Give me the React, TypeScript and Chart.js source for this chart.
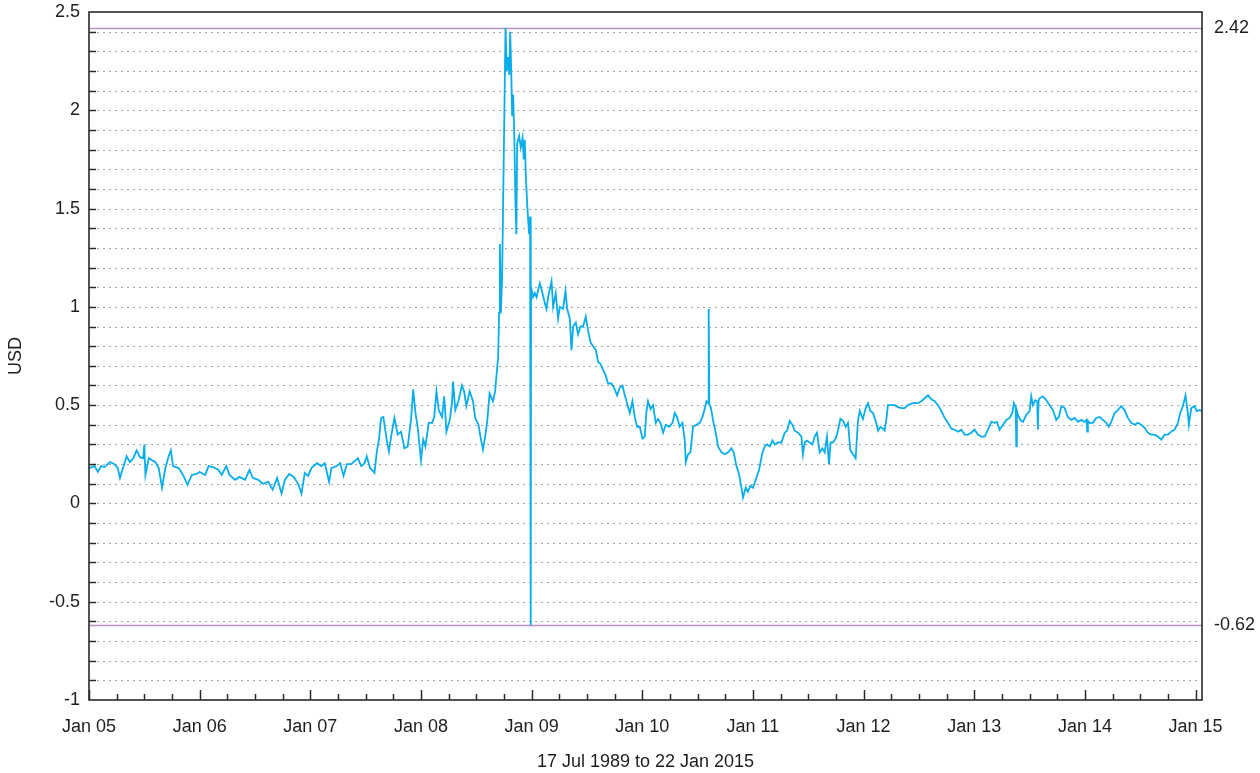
import React, { useEffect, useRef } from "react";
import { Chart, registerables } from "chart.js";

Chart.register(...registerables);

// ---- Data (decimal year, USD) ----
const t2005 = [2005.00, 2005.05, 2005.08, 2005.11, 2005.14, 2005.19, 2005.23, 2005.26, 2005.28, 2005.31, 2005.34, 2005.37, 2005.40, 2005.43, 2005.46, 2005.49, 2005.50, 2005.51, 2005.54, 2005.57, 2005.60, 2005.63, 2005.66, 2005.69, 2005.72, 2005.74, 2005.76, 2005.81, 2005.85, 2005.89, 2005.93, 2005.97];
const v2005 = [0.18, 0.19, 0.16, 0.19, 0.185, 0.21, 0.20, 0.18, 0.13, 0.185, 0.24, 0.21, 0.23, 0.27, 0.235, 0.23, 0.30, 0.145, 0.23, 0.22, 0.21, 0.18, 0.08, 0.18, 0.24, 0.27, 0.19, 0.18, 0.145, 0.095, 0.145, 0.15];

const t2006 = [2006.00, 2006.05, 2006.08, 2006.12, 2006.17, 2006.20, 2006.24, 2006.27, 2006.32, 2006.36, 2006.41, 2006.45, 2006.48, 2006.53, 2006.57, 2006.62, 2006.66, 2006.70, 2006.74, 2006.77, 2006.81, 2006.85, 2006.89, 2006.92, 2006.95, 2006.98];
const v2006 = [0.16, 0.145, 0.19, 0.185, 0.17, 0.145, 0.19, 0.145, 0.12, 0.135, 0.12, 0.17, 0.13, 0.12, 0.10, 0.11, 0.07, 0.13, 0.05, 0.12, 0.15, 0.135, 0.10, 0.05, 0.155, 0.14];

const t2007 = [2007.01, 2007.06, 2007.10, 2007.13, 2007.17, 2007.19, 2007.24, 2007.27, 2007.30, 2007.33, 2007.37, 2007.40, 2007.43, 2007.46, 2007.49, 2007.51, 2007.54, 2007.58, 2007.60, 2007.62, 2007.64, 2007.66, 2007.69, 2007.71, 2007.73, 2007.76, 2007.79, 2007.82, 2007.85, 2007.88, 2007.91, 2007.93, 2007.95, 2007.97];
const v2007 = [0.18, 0.205, 0.19, 0.205, 0.11, 0.18, 0.19, 0.205, 0.14, 0.20, 0.20, 0.215, 0.23, 0.19, 0.205, 0.24, 0.18, 0.155, 0.26, 0.325, 0.435, 0.44, 0.325, 0.265, 0.34, 0.435, 0.35, 0.365, 0.28, 0.29, 0.425, 0.58, 0.46, 0.39];

const t2008 = [2008.00, 2008.02, 2008.04, 2008.07, 2008.10, 2008.12, 2008.14, 2008.16, 2008.19, 2008.21, 2008.23, 2008.26, 2008.28, 2008.29, 2008.31, 2008.34, 2008.37, 2008.39, 2008.41, 2008.44, 2008.47, 2008.49, 2008.52, 2008.54, 2008.56, 2008.58, 2008.60, 2008.62, 2008.65, 2008.67, 2008.69];
const v2008 = [0.22, 0.325, 0.29, 0.41, 0.41, 0.44, 0.57, 0.475, 0.44, 0.545, 0.365, 0.425, 0.51, 0.62, 0.475, 0.525, 0.60, 0.57, 0.495, 0.57, 0.52, 0.435, 0.40, 0.33, 0.275, 0.34, 0.425, 0.56, 0.52, 0.57, 0.70];

const tCrisis = [2008.697, 2008.706, 2008.713, 2008.722, 2008.733, 2008.764, 2008.776, 2008.789, 2008.798, 2008.806, 2008.815, 2008.824, 2008.833, 2008.844, 2008.853, 2008.862, 2008.869, 2008.887, 2008.902, 2008.918, 2008.929, 2008.938, 2008.947, 2008.959, 2008.977, 2008.986, 2008.992, 2008.995];
const vCrisis = [0.74, 0.97, 1.32, 0.97, 1.14, 2.42, 2.20, 2.27, 2.18, 2.40, 2.22, 1.97, 2.08, 1.85, 1.55, 1.37, 1.83, 1.87, 1.81, 1.86, 1.75, 1.85, 1.68, 1.53, 1.37, 1.46, -0.62, 1.10];

const t2009 = [2009.013, 2009.029, 2009.044, 2009.074, 2009.089, 2009.119, 2009.134, 2009.149, 2009.180, 2009.194, 2009.218, 2009.239, 2009.255, 2009.284, 2009.306, 2009.321, 2009.345, 2009.360, 2009.375, 2009.399, 2009.420, 2009.442, 2009.465, 2009.489, 2009.510, 2009.532, 2009.555, 2009.580, 2009.601, 2009.622, 2009.646, 2009.670, 2009.691, 2009.722, 2009.751, 2009.772, 2009.797, 2009.821, 2009.842, 2009.862, 2009.887, 2009.911, 2009.932, 2009.953, 2009.977];
const v2009 = [1.05, 1.07, 1.05, 1.12, 1.09, 1.02, 0.99, 1.05, 1.13, 1.00, 1.07, 0.94, 1.00, 0.99, 1.08, 0.99, 0.94, 0.78, 0.90, 0.92, 0.86, 0.90, 0.90, 0.95, 0.88, 0.82, 0.80, 0.78, 0.72, 0.71, 0.68, 0.65, 0.61, 0.61, 0.58, 0.55, 0.59, 0.60, 0.55, 0.51, 0.46, 0.52, 0.44, 0.39, 0.39];

const t2010 = [2010.002, 2010.022, 2010.038, 2010.052, 2010.074, 2010.097, 2010.122, 2010.143, 2010.164, 2010.188, 2010.212, 2010.242, 2010.273, 2010.293, 2010.314, 2010.338, 2010.363, 2010.384, 2010.393, 2010.414, 2010.435, 2010.459, 2010.489, 2010.519, 2010.544, 2010.564, 2010.580, 2010.594, 2010.600, 2010.606, 2010.619, 2010.640, 2010.664, 2010.685, 2010.715, 2010.745, 2010.775, 2010.805, 2010.826, 2010.851, 2010.874, 2010.896, 2010.910, 2010.935, 2010.955, 2010.977];
const v2010 = [0.33, 0.34, 0.47, 0.52, 0.48, 0.50, 0.41, 0.43, 0.41, 0.36, 0.40, 0.39, 0.41, 0.46, 0.44, 0.39, 0.41, 0.32, 0.21, 0.25, 0.26, 0.39, 0.40, 0.41, 0.44, 0.48, 0.52, 0.51, 0.99, 0.50, 0.49, 0.42, 0.36, 0.29, 0.26, 0.25, 0.26, 0.28, 0.26, 0.19, 0.15, 0.08, 0.03, 0.08, 0.06, 0.09];

const t2011 = [2011.001, 2011.025, 2011.055, 2011.086, 2011.106, 2011.127, 2011.152, 2011.176, 2011.197, 2011.227, 2011.257, 2011.287, 2011.308, 2011.332, 2011.357, 2011.377, 2011.407, 2011.438, 2011.452, 2011.468, 2011.488, 2011.513, 2011.537, 2011.558, 2011.579, 2011.603, 2011.628, 2011.648, 2011.669, 2011.687, 2011.702, 2011.723, 2011.748, 2011.768, 2011.790, 2011.814, 2011.838, 2011.859, 2011.880, 2011.904, 2011.928, 2011.949, 2011.965, 2011.994];
const v2011 = [0.08, 0.12, 0.17, 0.26, 0.29, 0.30, 0.29, 0.32, 0.30, 0.31, 0.31, 0.36, 0.37, 0.42, 0.40, 0.37, 0.36, 0.34, 0.25, 0.31, 0.32, 0.31, 0.30, 0.34, 0.36, 0.26, 0.28, 0.26, 0.34, 0.20, 0.31, 0.31, 0.33, 0.37, 0.43, 0.42, 0.39, 0.41, 0.27, 0.25, 0.23, 0.42, 0.47, 0.43];

const t2012 = [2012.019, 2012.040, 2012.061, 2012.085, 2012.109, 2012.130, 2012.151, 2012.175, 2012.190, 2012.206, 2012.220, 2012.251, 2012.281, 2012.311, 2012.341, 2012.371, 2012.401, 2012.446, 2012.491, 2012.522, 2012.552, 2012.582, 2012.612, 2012.642, 2012.672, 2012.702, 2012.732, 2012.762, 2012.793, 2012.823, 2012.853, 2012.883, 2012.913, 2012.943, 2012.973];
const v2012 = [0.485, 0.51, 0.47, 0.46, 0.42, 0.37, 0.39, 0.38, 0.37, 0.43, 0.50, 0.50, 0.50, 0.49, 0.485, 0.485, 0.50, 0.51, 0.51, 0.52, 0.535, 0.55, 0.53, 0.52, 0.50, 0.47, 0.435, 0.41, 0.38, 0.375, 0.365, 0.375, 0.35, 0.35, 0.36];

const t2013 = [2013.003, 2013.033, 2013.064, 2013.094, 2013.124, 2013.154, 2013.184, 2013.205, 2013.229, 2013.259, 2013.290, 2013.320, 2013.344, 2013.358, 2013.374, 2013.380, 2013.385, 2013.394, 2013.416, 2013.440, 2013.470, 2013.500, 2013.515, 2013.530, 2013.551, 2013.569, 2013.575, 2013.581, 2013.590, 2013.620, 2013.651, 2013.681, 2013.711, 2013.741, 2013.765, 2013.787, 2013.817, 2013.846, 2013.877, 2013.907, 2013.937, 2013.967, 2013.997];
const v2013 = [0.375, 0.35, 0.34, 0.34, 0.375, 0.415, 0.41, 0.415, 0.375, 0.40, 0.425, 0.435, 0.46, 0.51, 0.49, 0.29, 0.47, 0.45, 0.425, 0.415, 0.45, 0.47, 0.545, 0.50, 0.525, 0.52, 0.375, 0.52, 0.535, 0.545, 0.525, 0.50, 0.475, 0.425, 0.44, 0.495, 0.485, 0.44, 0.425, 0.435, 0.415, 0.425, 0.415];

const t2014 = [2014.015, 2014.021, 2014.027, 2014.042, 2014.072, 2014.102, 2014.132, 2014.162, 2014.193, 2014.216, 2014.238, 2014.268, 2014.298, 2014.328, 2014.358, 2014.388, 2014.419, 2014.449, 2014.479, 2014.509, 2014.539, 2014.569, 2014.599, 2014.629, 2014.659, 2014.690, 2014.720, 2014.750, 2014.780, 2014.810, 2014.840, 2014.861, 2014.885, 2014.909, 2014.930, 2014.939, 2014.961, 2014.991, 2015.011, 2015.036, 2015.054];
const v2014 = [0.425, 0.365, 0.42, 0.41, 0.41, 0.435, 0.44, 0.425, 0.41, 0.39, 0.415, 0.46, 0.475, 0.495, 0.475, 0.435, 0.41, 0.40, 0.41, 0.40, 0.385, 0.36, 0.35, 0.35, 0.34, 0.325, 0.35, 0.35, 0.365, 0.375, 0.41, 0.46, 0.495, 0.55, 0.46, 0.40, 0.485, 0.495, 0.47, 0.475, 0.47];

// ---- Axis / annotation values ----
const yearTicks = [2005, 2006, 2007, 2008, 2009, 2010, 2011, 2012, 2013, 2014, 2015];
const yearLabels = ["Jan 05", "Jan 06", "Jan 07", "Jan 08", "Jan 09", "Jan 10", "Jan 11", "Jan 12", "Jan 13", "Jan 14", "Jan 15"];
const refLines = [2.42, -0.62];
const refLabels = ["2.42", "-0.62"];
const xMin = 2005.0;
const xMax = 2015.058;
const yMin = -1;
const yMax = 2.5;
const xTitle = "17 Jul 1989 to 22 Jan 2015";
const yTitle = "USD";

const FONT = "'Liberation Sans', Arial, Helvetica, sans-serif";
const TEXT = "#1e1e1e";

const allT = [...t2005, ...t2006, ...t2007, ...t2008, ...tCrisis, ...t2009, ...t2010, ...t2011, ...t2012, ...t2013, ...t2014];
const allV = [...v2005, ...v2006, ...v2007, ...v2008, ...vCrisis, ...v2009, ...v2010, ...v2011, ...v2012, ...v2013, ...v2014];

const noPad = (s: any) => {
  s.paddingTop = 0;
  s.paddingBottom = 0;
  s.paddingLeft = 0;
  s.paddingRight = 0;
};

const decor = {
  id: "decor",
  beforeDatasetsDraw(chart: any) {
    const { ctx, chartArea: a, scales } = chart;
    const y = scales.y;
    ctx.save();
    // dotted minor grid every 0.1
    ctx.lineWidth = 1;
    ctx.strokeStyle = "#a3a3a3";
    ctx.setLineDash([2, 4]);
    for (let i = -9; i <= 24; i++) {
      const py = Math.round(y.getPixelForValue(i / 10)) + 0.5;
      ctx.beginPath();
      ctx.moveTo(a.left + 2, py);
      ctx.lineTo(a.right, py);
      ctx.stroke();
    }
    ctx.setLineDash([]);
    // reference lines
    ctx.strokeStyle = "#b98fc4";
    ctx.lineWidth = 1.5;
    for (const v of refLines) {
      const py = Math.round(y.getPixelForValue(v)) + 0.5;
      ctx.beginPath();
      ctx.moveTo(a.left, py);
      ctx.lineTo(a.right, py);
      ctx.stroke();
    }
    ctx.restore();
  },
  afterDatasetsDraw(chart: any) {
    const { ctx, chartArea: a, scales } = chart;
    const x = scales.x;
    const y = scales.y;
    ctx.save();
    ctx.strokeStyle = "#2a2a2a";
    ctx.lineWidth = 1.5;
    // y ticks (inward) every 0.1
    for (let i = -9; i <= 24; i++) {
      const py = Math.round(y.getPixelForValue(i / 10)) + 0.5;
      ctx.beginPath();
      ctx.moveTo(a.left, py);
      ctx.lineTo(a.left + 7, py);
      ctx.stroke();
    }
    // x ticks (inward): quarterly minor, yearly major
    for (let q = 0; q <= 40; q++) {
      const v = xMin + q / 4;
      if (v > xMax) break;
      const px = Math.round(x.getPixelForValue(v)) + 0.5;
      const len = q % 4 === 0 ? 10 : 6;
      ctx.beginPath();
      ctx.moveTo(px, a.bottom);
      ctx.lineTo(px, a.bottom - len);
      ctx.stroke();
    }
    // frame
    ctx.lineWidth = 1.6;
    ctx.strokeRect(a.left, a.top, a.right - a.left, a.bottom - a.top);
    ctx.restore();
  },
};

export default function App() {
  const ref = useRef<HTMLCanvasElement | null>(null);

  useEffect(() => {
    const canvas = ref.current;
    if (!canvas) return;
    const chart = new Chart(canvas, {
      type: "line",
      data: {
        datasets: [
          {
            data: allT.map((t, i) => ({ x: t, y: allV[i] })),
            borderColor: "#08adec",
            borderWidth: 1.8,
            pointRadius: 0,
            tension: 0,
            fill: false,
          },
        ],
      },
      options: {
        animation: false,
        responsive: false,
        devicePixelRatio: 1,
        layout: { padding: { top: 12, left: 0, right: 0, bottom: 0 } },
        plugins: { legend: { display: false }, tooltip: { enabled: false }, title: { display: false } },
        scales: {
          x: {
            type: "linear",
            position: "bottom",
            min: xMin,
            max: xMax,
            grid: { display: false, drawTicks: false },
            border: { display: false },
            afterBuildTicks: (s: any) => {
              s.ticks = yearTicks.map((v) => ({ value: v }));
            },
            afterFit: (s: any) => {
              s.height = 73;
              noPad(s);
            },
            ticks: {
              autoSkip: false,
              maxRotation: 0,
              padding: 16,
              color: TEXT,
              font: { family: FONT, size: 18 },
              callback: (v: any) => {
                const i = yearTicks.indexOf(Math.round(Number(v)));
                return i >= 0 ? yearLabels[i] : "";
              },
            },
            title: {
              display: true,
              text: xTitle,
              color: TEXT,
              font: { family: FONT, size: 18 },
              padding: { top: 0, bottom: 0 },
            },
          },
          y: {
            type: "linear",
            position: "left",
            min: yMin,
            max: yMax,
            grid: { display: false, drawTicks: false },
            border: { display: false },
            afterFit: (s: any) => {
              s.width = 89;
              noPad(s);
            },
            ticks: {
              stepSize: 0.5,
              padding: 9,
              color: TEXT,
              font: { family: FONT, size: 18 },
              callback: (v: any) => String(Math.round(Number(v) * 10) / 10),
            },
            title: {
              display: true,
              text: yTitle,
              color: TEXT,
              font: { family: FONT, size: 18 },
              padding: { top: 5, bottom: 0 },
            },
          },
          y2: {
            type: "linear",
            position: "right",
            min: yMin,
            max: yMax,
            grid: { display: false, drawTicks: false },
            border: { display: false },
            afterBuildTicks: (s: any) => {
              s.ticks = refLines.map((v) => ({ value: v }));
            },
            afterFit: (s: any) => {
              s.width = 58;
              noPad(s);
            },
            ticks: {
              autoSkip: false,
              padding: 12,
              color: TEXT,
              font: { family: FONT, size: 18 },
              callback: (v: any) => {
                const i = refLines.indexOf(Number(v));
                return i >= 0 ? refLabels[i] : "";
              },
            },
          },
        },
      },
      plugins: [decor],
    } as any);
    return () => chart.destroy();
  }, []);

  return (
    <div style={{ position: "fixed", left: 0, top: 0, width: 1260, height: 773, background: "#fff" }}>
      <canvas ref={ref} width={1260} height={773} style={{ width: 1260, height: 773, display: "block" }} />
    </div>
  );
}
